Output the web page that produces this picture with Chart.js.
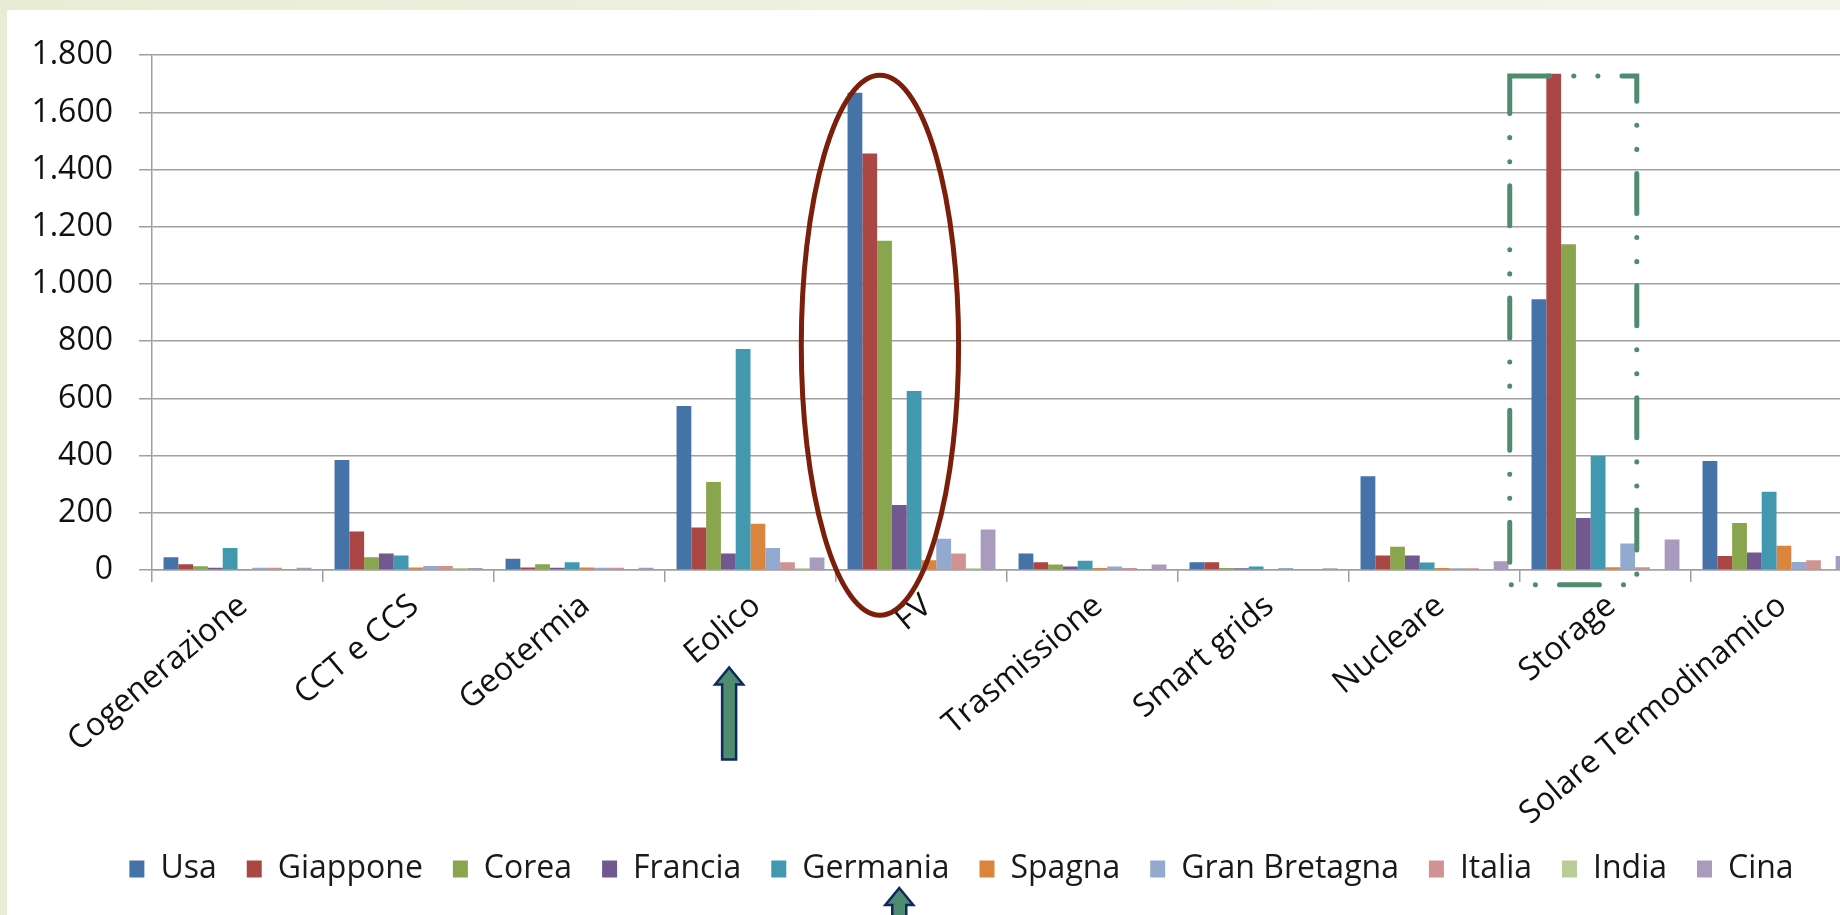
<!DOCTYPE html>
<html>
<head>
<meta charset="utf-8">
<script src="https://cdn.jsdelivr.net/npm/chart.js@4.4.1/dist/chart.umd.min.js"></script>
<style>
  html, body { margin: 0; padding: 0; width: 1840px; height: 915px; overflow: hidden; }
  body { background: linear-gradient(90deg, #e7edd5, #f4f6ec); position: relative; }
  #chart { position: absolute; left: 7px; top: 10px; background: #fff; }
</style>
</head>
<body>
<canvas id="chart" width="1860" height="905"></canvas>
<script>
// Categories and series
const categories = ["Cogenerazione", "CCT e CCS", "Geotermia", "Eolico", "FV", "Trasmissione", "Smart grids", "Nucleare", "Storage", "Solare Termodinamico"];
const yTicks = [0, 200, 400, 600, 800, 1000, 1200, 1400, 1600, 1800];

const usa       = [45, 385, 39, 573, 1669, 58, 27, 328, 947, 381];
const giappone  = [20, 135, 9, 149, 1456, 27, 27, 51, 1735, 49];
const corea     = [13, 45, 20, 308, 1151, 19, 7, 81, 1139, 164];
const francia   = [8, 58, 8, 58, 227, 12, 6, 51, 182, 61];
const germania  = [77, 51, 27, 773, 626, 32, 12, 26, 399, 274];
const spagna    = [1, 9, 9, 162, 34, 7, 0, 7, 10, 85];
const granBret  = [8, 14, 8, 77, 109, 12, 7, 6, 93, 28];
const italia    = [8, 14, 8, 27, 58, 7, 0, 6, 10, 34];
const india     = [0, 7, 0, 6, 6, 0, 0, 1, 2, 2];
const cina      = [8, 7, 8, 44, 142, 19, 6, 31, 107, 49];

const series = [
    ["Usa", usa, "#4572a7"],
    ["Giappone", giappone, "#aa4643"],
    ["Corea", corea, "#89a54e"],
    ["Francia", francia, "#71588f"],
    ["Germania", germania, "#4198af"],
    ["Spagna", spagna, "#db843d"],
    ["Gran Bretagna", granBret, "#93a9cf"],
    ["Italia", italia, "#d19392"],
    ["India", india, "#b9cd96"],
    ["Cina", cina, "#a99bbd"]
];

let fmt = (v) => String(v).replace(/\B(?=(\d{3})+(?!\d))/g, ".");
const gridGray = "#9f9f9f";

// Hand-drawn marks over the chart: ellipse on FV, dash-dot box on Storage, two arrows
function arrow(ctx, cx, tip, bottom) {
    ctx.beginPath();
    ctx.moveTo(cx, tip);
    ctx.lineTo(cx + 14, tip + 17);
    ctx.lineTo(cx + 7, tip + 17);
    ctx.lineTo(cx + 7, bottom);
    ctx.lineTo(cx - 7, bottom);
    ctx.lineTo(cx - 7, tip + 17);
    ctx.lineTo(cx - 14, tip + 17);
    ctx.closePath();
    ctx.fillStyle = "#4e8b6f";
    ctx.fill();
    ctx.lineWidth = 2.5;
    ctx.strokeStyle = "#0e2a5c";
    ctx.stroke();
}

const markup = {
    id: "markup",
    afterLayout(chart) {
        // legend sits a bit right of the canvas centre in the original
        chart.legend.left += 27;
        chart.legend.right += 27;
    },
    afterDraw(chart) {
        const { ctx, scales: { x, y } } = chart;
        const w = x.width / categories.length;
        const catLeft = (i) => x.getPixelForValue(i) - w / 2;
        ctx.save();

        // FV ellipse
        let top = y.getPixelForValue(1730), bottom = y.getPixelForValue(-158);
        ctx.beginPath();
        ctx.ellipse(catLeft(4) + 0.257 * w, (top + bottom) / 2, 0.46 * w, (bottom - top) / 2, 0, 0, Math.PI * 2);
        ctx.lineWidth = 5;
        ctx.strokeStyle = "#7b1f0b";
        ctx.stroke();

        // Storage box
        top = y.getPixelForValue(1727);
        bottom = y.getPixelForValue(-52);
        const left = catLeft(8) - 0.06 * w, right = catLeft(8) + 0.683 * w;
        ctx.setLineDash([40, 24, 0.1, 24, 0.1, 24]);
        ctx.lineCap = "round";
        ctx.lineWidth = 5;
        ctx.strokeStyle = "#4e8b6f";
        ctx.strokeRect(left, top, right - left, bottom - top);
        ctx.setLineDash([]);
        ctx.lineCap = "butt";

        // arrows under Eolico and under the Germania legend entry
        arrow(ctx, catLeft(3) + 0.375 * w, y.getPixelForValue(-341), y.getPixelForValue(-663));
        arrow(ctx, catLeft(4) + 0.37 * w, chart.height - 27, chart.height + 20);

        ctx.restore();
    }
};

new Chart(document.getElementById("chart"), {
    type: "bar",
    data: {
        labels: categories,
        datasets: series.map(([name, values, color]) => ({
            label: name,
            data: values,
            backgroundColor: color,
            borderWidth: 0,
            categoryPercentage: 0.865,
            barPercentage: 1
        }))
    },
    options: {
        responsive: false,
        animation: false,
        layout: { padding: { left: 0, top: 39, right: 5, bottom: 20 } },
        plugins: {
            tooltip: { enabled: false },
            legend: {
                position: "bottom",
                labels: {
                    boxWidth: 15,
                    boxHeight: 17,
                    padding: 30,
                    color: "#1a1a1a",
                    font: { family: "Open Sans", size: 32 }
                }
            }
        },
        scales: {
            x: {
                grid: { drawOnChartArea: false, color: gridGray, lineWidth: 1.5, tickLength: 12 },
                border: { color: gridGray, width: 1.5 },
                ticks: { minRotation: 40, maxRotation: 40, padding: 5, labelOffset: 6, color: "#111", font: { family: "Open Sans", size: 32 } },
                afterFit: (scale) => { scale.height = 253; }
            },
            y: {
                min: 0,
                max: 1800,
                afterBuildTicks: (scale) => { scale.ticks = yTicks.map(v => ({ value: v })); },
                grid: { color: gridGray, lineWidth: 1.5, tickLength: 13 },
                border: { color: gridGray, width: 1.5 },
                ticks: { padding: 26, color: "#111", font: { family: "Open Sans", size: 32 }, callback: (v) => fmt(v) },
                afterFit: (scale) => { scale.width = 145; }
            }
        }
    },
    plugins: [markup]
});
</script>
</body>
</html>
